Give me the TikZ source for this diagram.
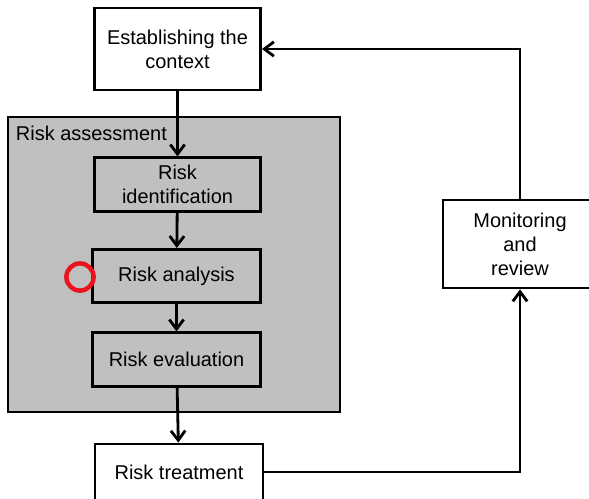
\documentclass[tikz,border=0pt]{standalone}
\usepackage{fontspec}
\setmainfont{Liberation Sans}
\usetikzlibrary{
  positioning,
  arrows.meta
}
\definecolor{raGrey}{RGB}{192,192,192}
\definecolor{raRed}{RGB}{235,20,30}

\begin{document}
\begin{tikzpicture}[
  x=0.025cm, y=-0.025cm,
  every node/.style={font=\fontsize{14.2}{17}\selectfont, align=center},
  stepbox/.style={
    rectangle, draw=black, fill=white, line width=2pt,
    minimum width=4.15cm, minimum height=1.33cm, inner sep=2pt
  },
  assessbox/.style={
    rectangle, draw=black, fill=raGrey, line width=2pt,
    minimum width=8.3cm, minimum height=7.375cm
  },
  arrow/.style={-{Straight Barb[length=2.4mm,width=3.6mm]}, line width=2pt}
]
 \clip (0,0) rectangle (589,498);

 % grey frame around the assessment steps
 \node[assessbox] (ra) at (174,264.5) {};
 \node[anchor=west] (ralabel) at (11,133) {Risk assessment};

 % main column
 \node[stepbox, minimum height=2.05cm] (ctx) at (177.5,49) {Establishing the\\context};
 \node[stepbox, fill=raGrey] (ident) at (177.5,184.5) {Risk\\identification};
 \node[stepbox, fill=raGrey, minimum width=4.18cm] (anal) at (176.5,276) {Risk analysis};
 \node[stepbox, fill=raGrey, minimum width=4.18cm] (eval) at (176.5,359.5) {Risk evaluation};
 \node[stepbox, minimum width=4.2cm, minimum height=1.4cm] (treat) at (179,472) {Risk treatment};

 % feedback loop
 \node[stepbox, minimum width=3.85cm, minimum height=2.2cm] (mon) at (520,244) {Monitoring\\and\\review};

 % highlight mark
 \node[circle, draw=raRed, line width=3.2pt, minimum size=0.68cm, inner sep=0pt] (hl) at (80,277) {};

 \draw[arrow] (ctx) -- (ident); \draw[arrow] (ident) -- (anal);
 \draw[arrow] (anal) -- (eval); \draw[arrow] (eval) -- (treat);
 \draw[arrow] (treat.east) -| (mon.south);
 \draw[arrow] (mon.north) |- (ctx.east);
\end{tikzpicture}
\end{document}
